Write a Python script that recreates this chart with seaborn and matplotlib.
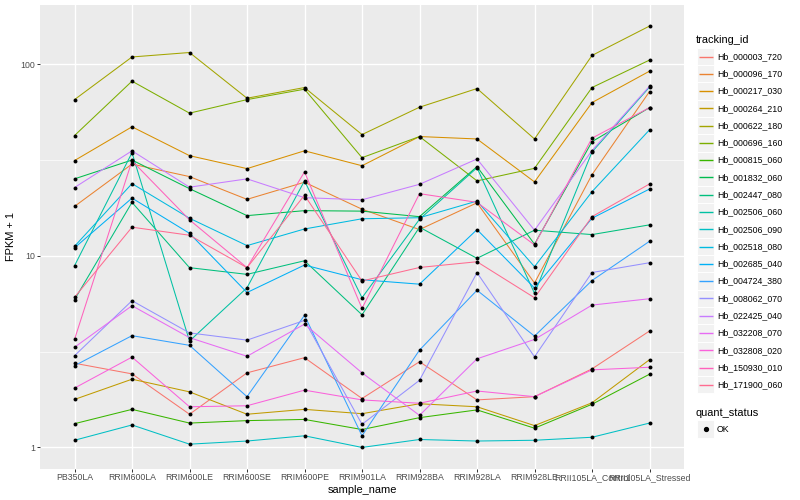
import numpy as np
import pandas as pd
import matplotlib
matplotlib.use("Agg")
import matplotlib.pyplot as plt
import seaborn as sns
from matplotlib.lines import Line2D
from matplotlib.patches import Rectangle
from matplotlib.ticker import FixedLocator, NullFormatter, NullLocator

# ---------------- data ----------------
samples = ["PB350LA", "RRIM600LA", "RRIM600LE", "RRIM600SE", "RRIM600PE",
           "RRIM901LA", "RRIM928BA", "RRIM928LA", "RRIM928LE",
           "RRII105LA_Control", "RRII105LA_Stressed"]

tracking_ids = ["Hb_000003_720", "Hb_000096_170", "Hb_000217_030", "Hb_000264_210",
                "Hb_000622_180", "Hb_000696_160", "Hb_000815_060", "Hb_001832_060",
                "Hb_002447_080", "Hb_002506_060", "Hb_002506_090", "Hb_002518_080",
                "Hb_002685_040", "Hb_004724_380", "Hb_008062_070", "Hb_022425_040",
                "Hb_032208_070", "Hb_032808_020", "Hb_150930_010", "Hb_171900_060"]

# FPKM + 1 per sample (order of `samples`)
hb_000003_720 = [2.75, 2.42, 1.49, 2.45, 2.94, 1.80, 2.80, 1.77, 1.84, 2.57, 4.05]
hb_000096_170 = [18.1, 30.1, 25.9, 19.7, 24.2, 17.5, 13.7, 18.9, 7.21, 26.5, 71.9]
hb_000217_030 = [31.4, 47.1, 33.3, 28.5, 35.3, 29.5, 41.9, 40.7, 24.3, 63.0, 91.9]
hb_000264_210 = [1.78, 2.27, 1.95, 1.49, 1.58, 1.50, 1.69, 1.63, 1.30, 1.71, 2.87]
hb_000622_180 = [65.3, 109, 115, 66.4, 75.5, 42.9, 59.6, 74.6, 40.7, 111, 158]
hb_000696_160 = [42.4, 81.5, 55.5, 65.3, 74.0, 32.5, 41.9, 24.6, 28.6, 75.5, 105]
hb_000815_060 = [1.33, 1.58, 1.34, 1.38, 1.40, 1.24, 1.43, 1.57, 1.26, 1.68, 2.41]
hb_001832_060 = [25.2, 31.6, 22.4, 16.2, 17.2, 17.1, 16.0, 29.2, 11.5, 39.4, 59.3]
hb_002447_080 = [5.90, 19.0, 8.67, 8.00, 9.42, 4.92, 14.1, 9.70, 13.6, 12.9, 14.5]
hb_002506_060 = [8.87, 34.5, 3.59, 6.81, 24.6, 6.04, 15.5, 28.8, 6.37, 34.8, 75.9]
hb_002506_090 = [1.09, 1.31, 1.04, 1.08, 1.15, 1.00, 1.10, 1.08, 1.09, 1.13, 1.34]
hb_002518_080 = [11.2, 23.8, 15.7, 11.3, 13.8, 15.6, 15.8, 19.3, 8.77, 21.6, 45.4]
hb_002685_040 = [11.0, 20.0, 13.1, 6.43, 8.95, 7.50, 7.11, 13.7, 6.79, 15.7, 22.3]
hb_004724_380 = [2.67, 3.83, 3.41, 1.84, 4.89, 1.15, 3.22, 6.61, 3.81, 7.43, 11.9]
hb_008062_070 = [3.01, 5.83, 3.96, 3.63, 4.60, 1.32, 2.24, 8.17, 2.97, 8.18, 9.20]
hb_022425_040 = [22.7, 35.3, 22.8, 25.2, 20.1, 19.6, 23.6, 32.0, 13.6, 35.4, 76.7]
hb_032208_070 = [3.33, 5.49, 3.74, 2.99, 4.40, 2.45, 1.47, 2.90, 3.66, 5.53, 5.97]
hb_032808_020 = [2.04, 2.96, 1.63, 1.65, 1.99, 1.77, 1.70, 1.97, 1.84, 2.54, 2.62]
hb_150930_010 = [3.66, 31.3, 15.4, 8.67, 27.4, 5.31, 21.1, 19.0, 11.4, 41.1, 59.3]
hb_171900_060 = [6.07, 14.1, 12.8, 8.67, 20.7, 7.39, 8.69, 9.31, 6.04, 16.0, 23.7]

series = [hb_000003_720, hb_000096_170, hb_000217_030, hb_000264_210, hb_000622_180,
          hb_000696_160, hb_000815_060, hb_001832_060, hb_002447_080, hb_002506_060,
          hb_002506_090, hb_002518_080, hb_002685_040, hb_004724_380, hb_008062_070,
          hb_022425_040, hb_032208_070, hb_032808_020, hb_150930_010, hb_171900_060]

quant_status = "OK"
y_ticks = [1, 10, 100]
y_tick_labels = ["1", "10", "100"]

# ggplot2 default hue palette for 20 levels
palette = ["#F8766D", "#EA8331", "#D89000", "#C09B00", "#A3A500", "#7CAE00", "#39B600",
           "#00BB4E", "#00BF7D", "#00C1A3", "#00BFC4", "#00BAE0", "#00B0F6", "#35A2FF",
           "#9590FF", "#C77CFF", "#E76BF3", "#FA62DB", "#FF62BC", "#FF6C91"]

rows = []
for tid, vals in zip(tracking_ids, series):
    for s, v in zip(samples, vals):
        rows.append({"tracking_id": tid, "sample_name": s, "fpkm": v,
                     "quant_status": quant_status})
df = pd.DataFrame(rows)
df["sample_name"] = pd.Categorical(df["sample_name"], categories=samples, ordered=True)
df["xpos"] = df["sample_name"].cat.codes

# ---------------- figure ----------------
W, H = 800, 500
fig = plt.figure(figsize=(W / 100, H / 100), dpi=100)
fam = ["Liberation Sans", "DejaVu Sans"]
plt.rcParams["font.family"] = fam

def fx(px):
    return px / W

def fy(py):
    return 1 - py / H

ax = fig.add_axes([fx(40), fy(468.5), fx(684) - fx(40), fy(5) - fy(468.5)])
ax.set_facecolor("#EBEBEB")
for sp in ax.spines.values():
    sp.set_visible(False)

sns.lineplot(data=df, x="xpos", y="fpkm", hue="tracking_id", hue_order=tracking_ids,
             palette=palette, units="tracking_id", estimator=None, sort=False,
             linewidth=0.75, legend=False, ax=ax, zorder=3)
sns.scatterplot(data=df, x="xpos", y="fpkm", color="black", s=8, linewidth=0,
                marker="o", legend=False, ax=ax, zorder=4)

ax.set_yscale("log")
lo = np.log10(df["fpkm"].min())
hi = np.log10(df["fpkm"].max())
pad = 0.05 * (hi - lo)
ax.set_ylim(10 ** (lo - pad), 10 ** (hi + pad))
ax.set_xlim(-0.6, len(samples) - 1 + 0.6)

ax.yaxis.set_major_locator(FixedLocator(y_ticks))
ax.set_yticklabels(y_tick_labels)
ax.yaxis.set_minor_locator(FixedLocator([10 ** 0.5, 10 ** 1.5, 10 ** 2.5]))
ax.yaxis.set_minor_formatter(NullFormatter())
ax.set_xticks(range(len(samples)))
ax.set_xticklabels(samples)
ax.xaxis.set_minor_locator(NullLocator())

ax.grid(which="major", color="white", linewidth=1.0, zorder=0)
ax.grid(which="minor", axis="y", color="white", linewidth=0.5, zorder=0)
ax.set_axisbelow(True)
ax.tick_params(which="major", length=2.0, width=0.7, color="#333333",
               labelsize=6.3, labelcolor="#4D4D4D", pad=1.6)
ax.tick_params(which="minor", length=0)

ax.set_xlabel("sample_name", fontsize=7.9, color="black", labelpad=2)
ax.set_ylabel("FPKM + 1", fontsize=7.9, color="black", labelpad=3)

# ---------------- legends ----------------
key = 17.28
x_key0, x_key1 = 697, 697 + key
x_txt = 717
y0 = 56.5
fig.text(fx(696), fy(40), "tracking_id", fontsize=7.9, va="center", ha="left")
for i, (tid, col) in enumerate(zip(tracking_ids, palette)):
    yc = y0 + key * i
    fig.add_artist(Rectangle((fx(x_key0), fy(yc + key / 2)), fx(key), fy(0) - fy(key),
                             transform=fig.transFigure, facecolor="#F2F2F2",
                             edgecolor="white", linewidth=0.7, zorder=1))
    fig.add_artist(Line2D([fx(x_key0 + 1.7), fx(x_key1 - 1.7)], [fy(yc), fy(yc)],
                          transform=fig.transFigure, color=col, linewidth=1.0,
                          solid_capstyle="butt", zorder=2))
    fig.text(fx(x_txt), fy(yc), tid, fontsize=6.3, va="center", ha="left")

y_q_title = 412.5
y_ok = 429
fig.text(fx(696), fy(y_q_title), "quant_status", fontsize=7.9, va="center", ha="left")
fig.add_artist(Rectangle((fx(x_key0), fy(y_ok + key / 2)), fx(key), fy(0) - fy(key),
                         transform=fig.transFigure, facecolor="#F2F2F2",
                         edgecolor="white", linewidth=0.7, zorder=1))
fig.add_artist(Line2D([fx(x_key0 + key / 2)], [fy(y_ok)], transform=fig.transFigure,
                      marker="o", markersize=2.8, color="black", linestyle="none",
                      zorder=2))
fig.text(fx(x_txt), fy(y_ok), quant_status, fontsize=6.3, va="center", ha="left")

fig.savefig("out.png", dpi=100)
